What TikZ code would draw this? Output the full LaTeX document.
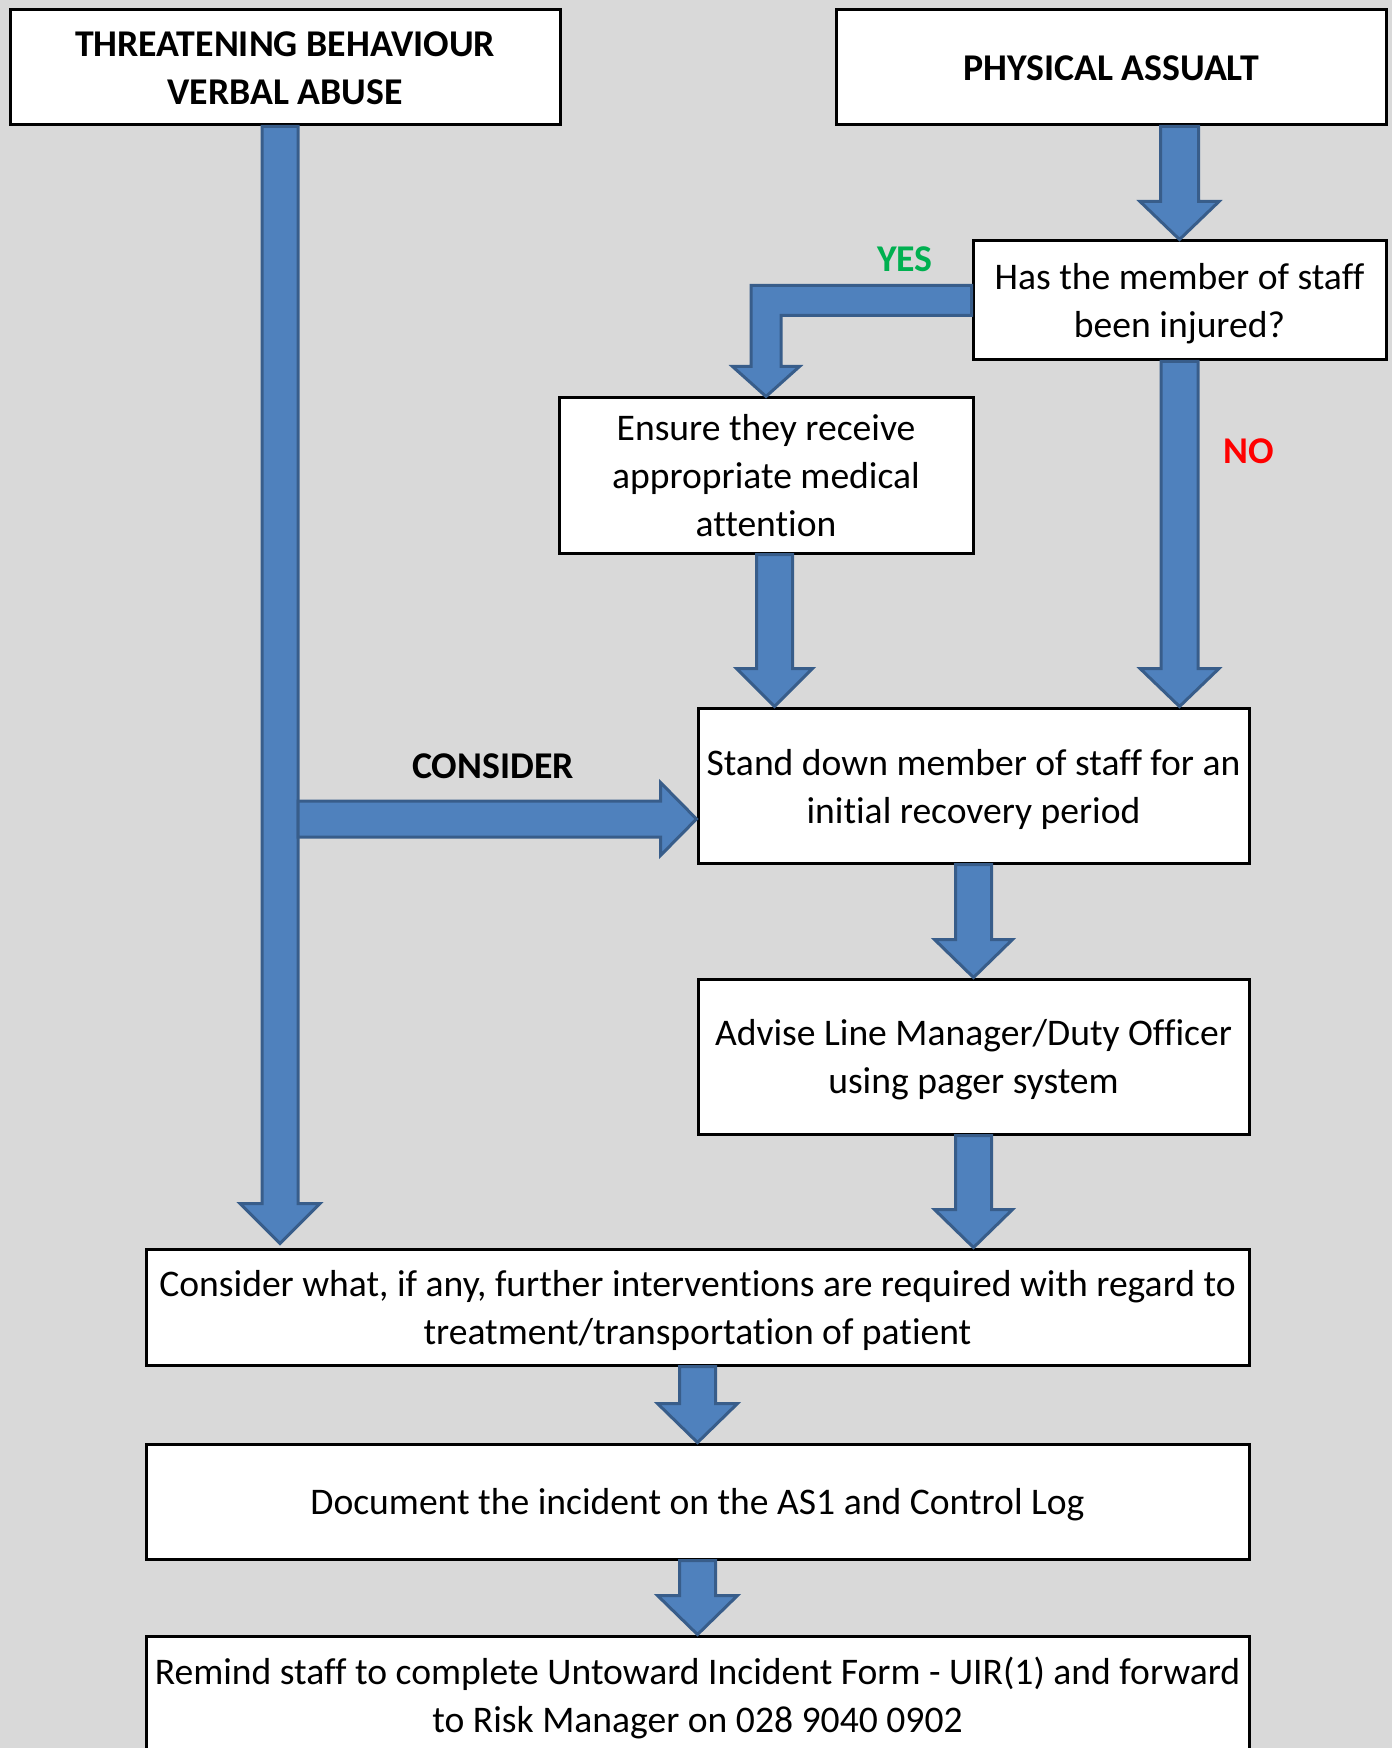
\documentclass[tikz,border=0pt]{standalone}
\usepackage{fontspec}
\setmainfont{Carlito}[Ligatures=NoCommon]
\usetikzlibrary{calc}
\definecolor{bg}{HTML}{D9D9D9}
\definecolor{afill}{HTML}{4F81BD}
\definecolor{aline}{HTML}{385D8A}
\definecolor{yesg}{HTML}{00B050}
\definecolor{nored}{HTML}{FF0000}
% down block arrow: #1 top point, #2 tip, #3 half shaft, #4 half head, #5 head length
\newcommand\bdarrow[5]{\draw[blk] ($#1+(-#3,0)$) -- ($#2+(-#3,-#5)$) -- ($#2+(-#4,-#5)$) -- #2 -- ($#2+(#4,-#5)$) -- ($#2+(#3,-#5)$) -- ($#1+(#3,0)$) -- cycle;}
% right block arrow
\newcommand\brarrow[5]{\draw[blk] ($#1+(0,-#3)$) -- ($#2+(-#5,-#3)$) -- ($#2+(-#5,-#4)$) -- #2 -- ($#2+(-#5,#4)$) -- ($#2+(-#5,#3)$) -- ($#1+(0,#3)$) -- cycle;}
\newcommand\tstrut[1]{\rule{0pt}{#1}}
\begin{document}
\begin{tikzpicture}[x=0.5pt,y=-0.5pt,
 box/.style={draw=black,line width=1.5pt,fill=white,align=center,inner sep=0pt,font=\fontsize{18.8}{24}\selectfont},
 boxb/.style={box,font=\fontsize{18.9}{24}\selectfont\bfseries},
 blk/.style={fill=afill,draw=aline,line width=1.5pt,line join=miter},
 lbl/.style={font=\fontsize{18.9}{24}\selectfont\bfseries}]
\useasboundingbox (0,0) rectangle (1392,1748);
\fill[bg] (0,0) rectangle (1392,1748);

\node[boxb,minimum width=275pt,minimum height=57.5pt] (tb) at (285,67.5) {\tstrut{13.6pt}THREATENING BEHAVIOUR\\VERBAL ABUSE};
\node[boxb,minimum width=275pt,minimum height=57.5pt] (pa) at (1111,67.5) {\tstrut{13.6pt}PHYSICAL ASSUALT};
\node[box,minimum width=206.5pt,minimum height=59.5pt] (q) at (1179.5,300.5) {\tstrut{16.7pt}Has the member of staff\\been injured?};
\node[box,minimum width=207pt,minimum height=77.5pt] (med) at (766,475.5) {Ensure they receive\\appropriate medical\\attention};
\node[box,minimum width=275.5pt,minimum height=77.5pt] (stand) at (973.5,785.5) {\tstrut{16.7pt}Stand down member of staff for an\\initial recovery period};
\node[box,minimum width=275.5pt,minimum height=77.5pt] (adv) at (973.5,1056.5) {\tstrut{16.7pt}Advise Line Manager/Duty Officer\\using pager system};
\node[box,minimum width=551.5pt,minimum height=58pt] (cons) at (697.5,1307) {\tstrut{16.7pt}Consider what, if any, further interventions are required with regard to\\treatment/transportation of patient};
\node[box,minimum width=551.5pt,minimum height=57.5pt] (doc) at (697.5,1501.5) {\tstrut{16.7pt}Document the incident on the AS1 and Control Log};
\node[box,minimum width=551.5pt,minimum height=59pt] (rem) at (697.5,1695) {\tstrut{16.7pt}Remind staff to complete Untoward Incident Form - UIR(1) and forward\\to Risk Manager on 028 9040 0902};

% coordinates for connectors
\coordinate (a1) at (q.north |- pa.south);
\coordinate (a3s) at ($(med.south)+(8.5,0)$);
\coordinate (a3t) at (a3s |- stand.north);
\coordinate (a2t) at (q.south |- stand.north);
\coordinate (a5t) at (adv.south |- cons.north);
\coordinate (ls) at ($(tb.south)+(-5,0)$);
\coordinate (lt) at ($(ls |- cons.north)+(0,-4)$);
\coordinate (ht) at ($(stand.west)+(0,33.5)$);
\coordinate (hs) at ($(ls |- ht)+(18,0)$);
\coordinate (ec) at (med.north |- q.west);

% arrows
\bdarrow{(a1)}{(q.north)}{19}{39.5}{38}
\bdarrow{(q.south)}{(a2t)}{18.5}{39.5}{38}
\bdarrow{(a3s)}{(a3t)}{18}{38}{38}
\bdarrow{(stand.south)}{(adv.north)}{18}{39}{38}
\bdarrow{(adv.south)}{(a5t)}{18}{39}{38}
\bdarrow{(ls)}{(lt)}{18}{40}{40}
\bdarrow{(cons.south)}{(doc.north)}{18}{40}{39}
\bdarrow{(doc.south)}{(rem.north)}{18}{40}{39}
\brarrow{(hs)}{(ht)}{18}{36.5}{36}
\draw[blk] ($(q.west)+(0,-15)$) -- ($(ec)+(-15,-15)$) -- ($(med.north)+(-15,-30)$) -- ($(med.north)+(-33.5,-30)$) -- (med.north) -- ($(med.north)+(33.5,-30)$) -- ($(med.north)+(15,-30)$) -- ($(ec)+(15,15)$) -- ($(q.west)+(0,15)$) -- cycle;

% labels
\node[lbl,text=yesg] (yes) at (905,259) {YES};
\node[lbl,text=nored] (no) at (1249,451) {NO};
\node[lbl] (consider) at (493,766) {CONSIDER};
\end{tikzpicture}
\end{document}
